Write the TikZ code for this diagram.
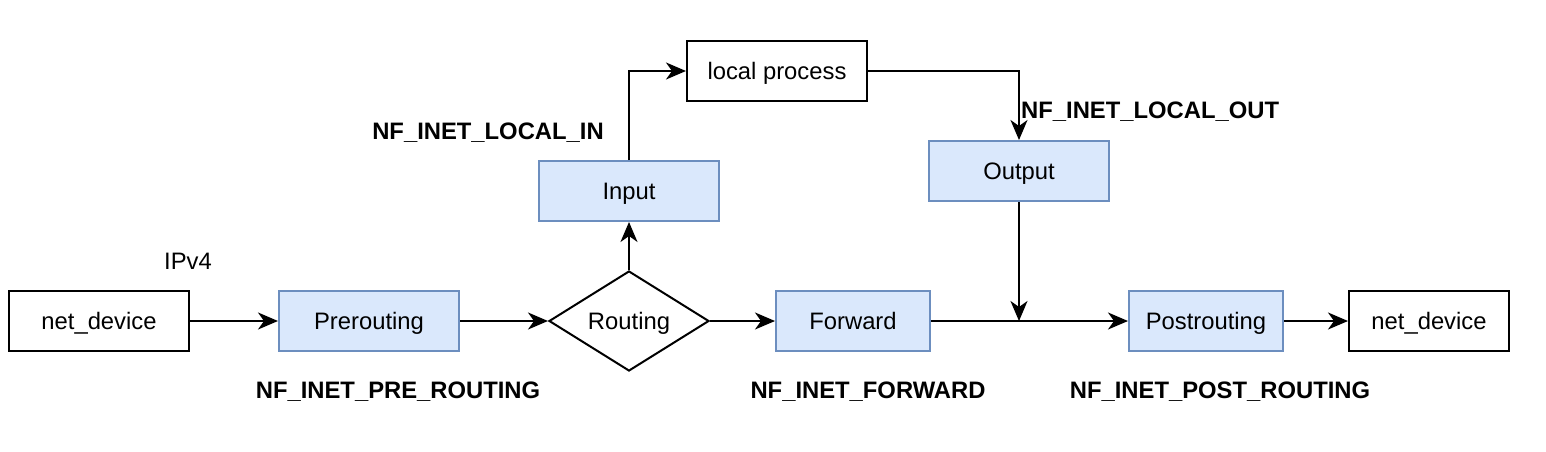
\documentclass[tikz,border=0pt]{standalone}
\usepackage{fontspec}
\setmainfont{Liberation Sans}
\usetikzlibrary{arrows.meta,shapes.geometric}
\definecolor{bfill}{HTML}{DAE8FC}
\definecolor{bdraw}{HTML}{6C8EBF}
\tikzset{
  fnt/.style={font=\fontsize{23.8}{27}\selectfont,text height=20pt,text depth=3pt},
  plain/.style={draw=black,line width=2pt,fill=white,minimum height=60pt,inner sep=0pt,fnt},
  hook/.style={draw=bdraw,line width=2pt,fill=bfill,minimum height=60pt,inner sep=0pt,fnt},
  lbl/.style={inner sep=0pt,fnt,font=\fontsize{23.8}{27}\selectfont\bfseries},
  txt/.style={inner sep=0pt,fnt},
  conn/.style={line width=2pt,-{Stealth[length=20pt,width=17pt,inset=6pt]}},
}
\begin{document}
\begin{tikzpicture}[x=1pt,y=-1pt]
\useasboundingbox (0,0) rectangle (1546,452);
\node[plain,minimum width=180pt] (nd1) at (99,321) {net\_device};
\node[hook,minimum width=180pt] (pre) at (369,321) {Prerouting};
\node[diamond,draw=black,line width=2pt,fill=white,minimum width=160pt,minimum height=100pt,inner sep=0pt,aspect=1.6,fnt] (rt) at (629,321) {Routing};
\node[hook,minimum width=154pt] (fwd) at (853,321) {Forward};
\node[hook,minimum width=154pt] (post) at (1206,321) {Postrouting};
\node[plain,minimum width=160pt] (nd2) at (1429,321) {net\_device};
\node[hook,minimum width=180pt] (in) at (629,191) {Input};
\node[hook,minimum width=180pt] (out) at (1019,171) {Output};
\node[plain,minimum width=180pt] (lp) at (777,71) {local process};
\coordinate (j) at (1019,321);

\node[txt] (ipv4) at (188,261) {IPv4};
\node[lbl] (l1) at (398,390) {NF\_INET\_PRE\_ROUTING};
\node[lbl] (l2) at (868,390) {NF\_INET\_FORWARD};
\node[lbl] (l3) at (1220,390) {NF\_INET\_POST\_ROUTING};
\node[lbl] (l4) at (488,131) {NF\_INET\_LOCAL\_IN};
\node[lbl,anchor=west] (l5) at (1021,110) {NF\_INET\_LOCAL\_OUT};

\draw[conn] (nd1) -- (pre);
\draw[conn] (pre) -- (rt);
\draw[conn] (rt) -- (fwd);
\draw[conn] (rt) -- (in);
\draw[conn] (in.north) |- (lp.west);
\draw[conn] (lp.east) -| (out.north);
\draw[conn] (out.south) -- (j);
\draw[conn] (fwd) -- (post);
\draw[conn] (post) -- (nd2);
\end{tikzpicture}
\end{document}
